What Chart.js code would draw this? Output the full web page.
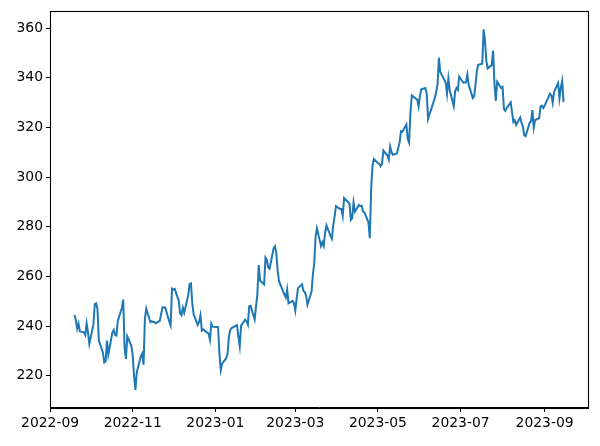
<!DOCTYPE html>
<html lang="en">
<head>
    <meta charset="UTF-8">
    <title>Price chart</title>
    <script src="https://cdn.jsdelivr.net/npm/chart.js"></script>
    <style>
        body { margin: 0; padding: 0; background: #fff; }
        canvas { display: block; }
    </style>
</head>
<body>
    <canvas id="priceChart" width="600" height="446"></canvas>

    <script>
        // daily closes
        const dates = [
            '2022-09-19','2022-09-20','2022-09-21','2022-09-22','2022-09-23','2022-09-26','2022-09-27','2022-09-28','2022-09-29','2022-09-30',
            '2022-10-03','2022-10-04','2022-10-05','2022-10-06','2022-10-07','2022-10-10','2022-10-11','2022-10-12','2022-10-13','2022-10-14',
            '2022-10-17','2022-10-18','2022-10-19','2022-10-20','2022-10-21','2022-10-24','2022-10-25','2022-10-26','2022-10-27','2022-10-28','2022-10-31',
            '2022-11-01','2022-11-02','2022-11-03','2022-11-04','2022-11-07','2022-11-08','2022-11-09','2022-11-10','2022-11-11',
            '2022-11-14','2022-11-15','2022-11-16','2022-11-17','2022-11-18','2022-11-21','2022-11-22','2022-11-23','2022-11-25',
            '2022-11-28','2022-11-29','2022-11-30',
            '2022-12-01','2022-12-02','2022-12-05','2022-12-06','2022-12-07','2022-12-08','2022-12-09','2022-12-12','2022-12-13','2022-12-14',
            '2022-12-15','2022-12-16','2022-12-19','2022-12-20','2022-12-21','2022-12-22','2022-12-23','2022-12-27','2022-12-28','2022-12-29','2022-12-30',
            '2023-01-03','2023-01-04','2023-01-05','2023-01-06','2023-01-09','2023-01-10','2023-01-11','2023-01-12','2023-01-13',
            '2023-01-17','2023-01-18','2023-01-19','2023-01-20','2023-01-23','2023-01-24','2023-01-25','2023-01-26','2023-01-27','2023-01-30','2023-01-31',
            '2023-02-01','2023-02-02','2023-02-03','2023-02-06','2023-02-07','2023-02-08','2023-02-09','2023-02-10','2023-02-13','2023-02-14',
            '2023-02-15','2023-02-16','2023-02-17','2023-02-21','2023-02-22','2023-02-23','2023-02-24','2023-02-27','2023-02-28',
            '2023-03-01','2023-03-02','2023-03-03','2023-03-06','2023-03-07','2023-03-08','2023-03-09','2023-03-10','2023-03-13','2023-03-14',
            '2023-03-15','2023-03-16','2023-03-17','2023-03-20','2023-03-21','2023-03-22','2023-03-23','2023-03-24','2023-03-27','2023-03-28',
            '2023-03-29','2023-03-30','2023-03-31',
            '2023-04-03','2023-04-04','2023-04-05','2023-04-06','2023-04-10','2023-04-11','2023-04-12','2023-04-13','2023-04-14',
            '2023-04-17','2023-04-18','2023-04-19','2023-04-20','2023-04-21','2023-04-24','2023-04-25','2023-04-26','2023-04-27','2023-04-28',
            '2023-05-01','2023-05-02','2023-05-03','2023-05-04','2023-05-05','2023-05-08','2023-05-09','2023-05-10','2023-05-11','2023-05-12',
            '2023-05-15','2023-05-16','2023-05-17','2023-05-18','2023-05-19','2023-05-22','2023-05-23','2023-05-24','2023-05-25','2023-05-26',
            '2023-05-30','2023-05-31',
            '2023-06-01','2023-06-02','2023-06-05','2023-06-06','2023-06-07','2023-06-08','2023-06-09','2023-06-12','2023-06-13','2023-06-14',
            '2023-06-15','2023-06-16','2023-06-20','2023-06-21','2023-06-22','2023-06-23','2023-06-26','2023-06-27','2023-06-28','2023-06-29','2023-06-30',
            '2023-07-03','2023-07-05','2023-07-06','2023-07-07','2023-07-10','2023-07-11','2023-07-12','2023-07-13','2023-07-14',
            '2023-07-17','2023-07-18','2023-07-19','2023-07-20','2023-07-21','2023-07-24','2023-07-25','2023-07-26','2023-07-27','2023-07-28','2023-07-31',
            '2023-08-01','2023-08-02','2023-08-03','2023-08-04','2023-08-07','2023-08-08','2023-08-09','2023-08-10','2023-08-11',
            '2023-08-14','2023-08-15','2023-08-16','2023-08-17','2023-08-18','2023-08-21','2023-08-22','2023-08-23','2023-08-24','2023-08-25',
            '2023-08-28','2023-08-29','2023-08-30','2023-08-31',
            '2023-09-01','2023-09-05','2023-09-06','2023-09-07','2023-09-08','2023-09-11','2023-09-12','2023-09-13','2023-09-14','2023-09-15'
        ];

        const closes = [
            244.5, 242.5, 239.0, 241.0, 237.9, 237.5, 236.4, 241.1, 237.5, 232.9,
            240.7, 248.9, 249.2, 246.8, 234.2, 229.3, 225.4, 225.8, 234.2, 228.6,
            237.5, 238.5, 236.5, 236.2, 242.1, 247.3, 250.7, 231.3, 226.8, 235.9, 232.1,
            228.2, 220.1, 214.3, 221.4, 227.9, 228.9, 224.5, 243.0, 247.1,
            241.6, 242.0, 241.7, 241.7, 241.2, 242.1, 245.0, 247.6, 247.5,
            241.8, 240.3, 255.1,
            254.7, 255.0, 250.2, 245.1, 244.4, 247.4, 245.4, 252.5, 256.9, 257.2,
            249.0, 244.7, 240.5, 241.8, 244.4, 238.2, 238.7, 237.0, 234.5, 241.0, 239.8,
            239.6, 229.1, 222.3, 224.9, 227.1, 228.9, 235.8, 238.5, 239.2,
            240.4, 235.8, 231.9, 240.2, 242.6, 242.0, 240.6, 248.0, 248.2, 242.7, 247.8,
            252.8, 264.6, 258.4, 256.8, 267.6, 266.7, 263.6, 263.1, 271.3, 272.2,
            269.3, 262.2, 258.1, 252.7, 251.5, 254.8, 249.2, 250.2, 249.4,
            246.3, 251.1, 255.3, 256.9, 254.2, 253.7, 252.3, 248.6, 253.9, 260.8,
            265.4, 276.2, 279.4, 272.2, 273.8, 272.3, 277.7, 280.6, 276.4, 275.2,
            280.5, 284.1, 288.3,
            287.2, 287.2, 284.3, 291.6, 289.4, 282.8, 283.5, 289.8, 286.1,
            288.8, 288.4, 288.5, 286.1, 285.8, 281.8, 275.4, 295.4, 304.8, 307.3,
            305.6, 305.4, 304.4, 305.4, 310.7, 308.7, 307.0, 312.3, 310.1, 309.0,
            309.5, 311.7, 314.0, 318.5, 318.3, 321.2, 315.3, 313.9, 325.9, 332.9,
            331.2, 328.4,
            332.6, 335.4, 335.9, 333.7, 323.4, 325.3, 326.8, 331.9, 334.3, 337.3,
            348.1, 342.3, 338.1, 333.6, 339.7, 335.0, 328.6, 334.6, 335.9, 335.1, 340.5,
            338.0, 338.2, 341.3, 337.2, 331.8, 332.5, 337.2, 342.7, 345.2,
            345.7, 359.5, 355.1, 346.9, 343.8, 345.1, 351.0, 337.8, 330.7, 338.4, 335.9,
            336.3, 327.5, 326.7, 327.8, 330.1, 326.1, 322.2, 322.9, 321.0,
            324.0, 321.9, 320.4, 316.9, 316.5, 321.9, 322.5, 327.0, 320.0, 323.0,
            323.7, 328.4, 328.8, 327.8,
            328.7, 333.6, 332.9, 329.9, 334.3, 337.9, 331.8, 336.1, 338.7, 330.2
        ];

        // x tick positions (every other month) and y tick values
        const xTickDates = ['2022-09-01', '2022-11-01', '2023-01-01', '2023-03-01', '2023-05-01', '2023-07-01', '2023-09-01'];
        const yTickValues = [220, 240, 260, 280, 300, 320, 340, 360];

        const DAY = 86400000;
        const dayNum = d => Date.parse(d + 'T00:00:00Z') / DAY;
        const fmtMonth = v => new Date(Math.round(v) * DAY).toISOString().slice(0, 7);

        const points = dates.map((d, i) => ({ x: dayNum(d), y: closes[i] }));

        // matplotlib style 5% margins
        const xLo = points[0].x, xHi = points[points.length - 1].x;
        const yLo = Math.min(...closes), yHi = Math.max(...closes);
        const xPad = (xHi - xLo) * 0.05, yPad = (yHi - yLo) * 0.05;

        const tickFont = { family: 'DejaVu Sans', size: 13.9 };

        // draw the full box around the plot area
        const frame = {
            id: 'frame',
            afterDraw(chart) {
                const { ctx, chartArea: a } = chart;
                ctx.save();
                ctx.strokeStyle = '#000';
                ctx.lineWidth = 1.1;
                ctx.strokeRect(Math.round(a.left) + 0.5, Math.round(a.top) + 0.5,
                    Math.round(a.right - a.left), Math.round(a.bottom - a.top));
                ctx.restore();
            }
        };

        new Chart(document.getElementById('priceChart'), {
            type: 'line',
            data: {
                datasets: [{
                    data: points,
                    borderColor: '#1f77b4',
                    borderWidth: 2,
                    pointRadius: 0,
                    tension: 0,
                    fill: false
                }]
            },
            options: {
                responsive: false,
                animation: false,
                devicePixelRatio: 1,
                layout: { padding: { top: 11, right: 12, left: 0, bottom: 0 } },
                plugins: { legend: { display: false }, tooltip: { enabled: false } },
                scales: {
                    x: {
                        type: 'linear',
                        min: xLo - xPad,
                        max: xHi + xPad,
                        afterBuildTicks: s => { s.ticks = xTickDates.map(d => ({ value: dayNum(d) })); },
                        afterFit: s => { s.height = 38; },
                        grid: { display: true, drawOnChartArea: false, drawTicks: true, tickLength: 4, color: '#000' },
                        border: { display: true, color: '#000' },
                        ticks: { color: '#000', font: tickFont, padding: 3, maxRotation: 0, callback: v => fmtMonth(v) }
                    },
                    y: {
                        min: yLo - yPad,
                        max: yHi + yPad,
                        afterBuildTicks: s => { s.ticks = yTickValues.map(v => ({ value: v })); },
                        afterFit: s => { s.width = 50; },
                        grid: { display: true, drawOnChartArea: false, drawTicks: true, tickLength: 4, color: '#000' },
                        border: { display: true, color: '#000' },
                        ticks: { color: '#000', font: tickFont, padding: 3 }
                    }
                }
            },
            plugins: [frame]
        });
    </script>
</body>
</html>
